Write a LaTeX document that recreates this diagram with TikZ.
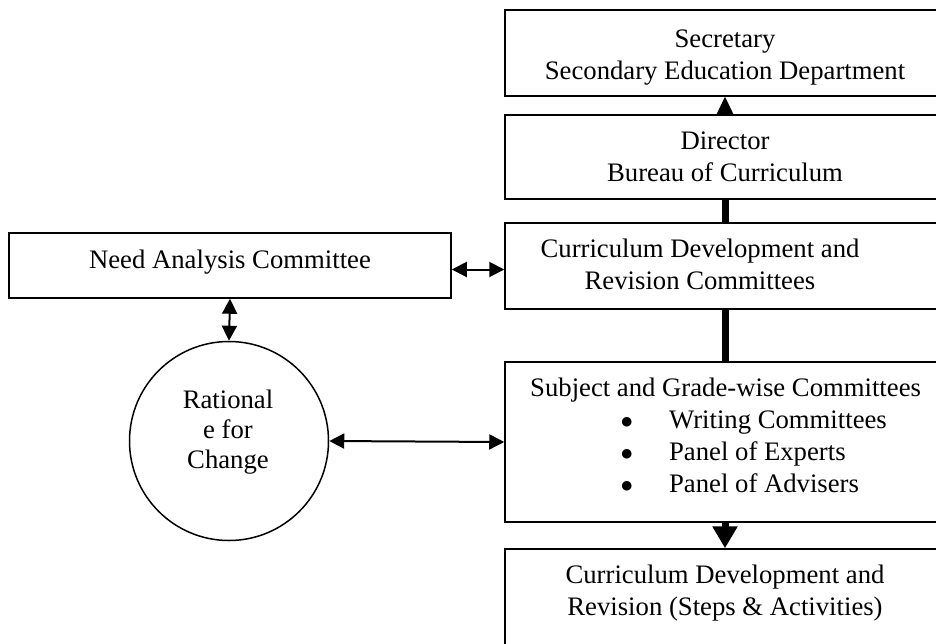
\documentclass[tikz,border=0pt]{standalone}
\usepackage{fontspec}
\setmainfont{Liberation Serif}
\usetikzlibrary{arrows.meta}

\begin{document}
\begin{tikzpicture}[x=1pt,y=-1pt,
  block/.style={rectangle,draw,line width=1.5pt,minimum width=440pt,inner sep=0pt},
  txt/.style={align=center,inner sep=0pt,font=\fontsize{26.7}{32}\selectfont},
  link/.style={line width=7pt},
  both/.style={line width=2pt,{Triangle[length=15pt,width=15pt]}-{Triangle[length=15pt,width=15pt]}}]
\def\colX{725}
\def\item{\hspace*{90.5pt}$\bullet$\hspace*{36pt}}
\useasboundingbox (0,0) rectangle (936,643);
\clip (0,0) rectangle (936,643);
% boxes of the right column
\path
(\colX,53) node [block,minimum height=86pt] (sec) {}
(\colX,157) node [block,minimum height=84pt] (dir) {}
(\colX,266) node [block,minimum height=86pt] (cdr) {}
(\colX,442) node [block,minimum height=160pt] (sub) {}
(\colX,615) node [block,minimum height=132pt] (steps) {}
(230,265.5) node [block,minimum width=442pt,minimum height=65pt] (need) {}
(229,441) node [circle,draw,line width=1.5pt,minimum size=199pt] (rat) {}
;
% texts
\path
(\colX,57.5) node [txt] (secT) {Secretary\\Secondary Education Department}
(\colX,156.5) node [txt] (dirT) {Director\\Bureau of Curriculum}
(700,264.5) node [txt] (cdrT) {Curriculum Development and\\Revision Committees}
(530,435.5) node [txt,align=left,anchor=west] (subT) {Subject and Grade-wise Committees\\
  \item Writing Committees\\
  \item Panel of Experts\\
  \item Panel of Advisers}
(\colX,593) node [txt] (stepsT) {Curriculum Development and\\Revision (Steps \& Activities)}
(230,262) node [txt] (needT) {Need Analysis Committee}
(228,432) node [txt,font=\fontsize{26.7}{30}\selectfont] (ratT) {Rational\\e for\\Change}
;
% connectors
\draw[line width=1.5pt,-{Triangle[length=18pt,width=17pt]}] (dir.north) -- (sec.south);
\draw[link] (dir.south) -- (cdr.north);
\draw[link] (cdr.south) -- (sub.north);
\draw[link,-{Triangle[length=22pt,width=24pt]}] (sub.south) -- (steps.north);
\draw[both] ([yshift=-4pt]need.east) -- ([yshift=-4pt]need.east -| cdr.west);
\draw[both] (need.south) -- (rat.north);
\draw[both] (rat.east) -- (sub.west);
\end{tikzpicture}
\end{document}
